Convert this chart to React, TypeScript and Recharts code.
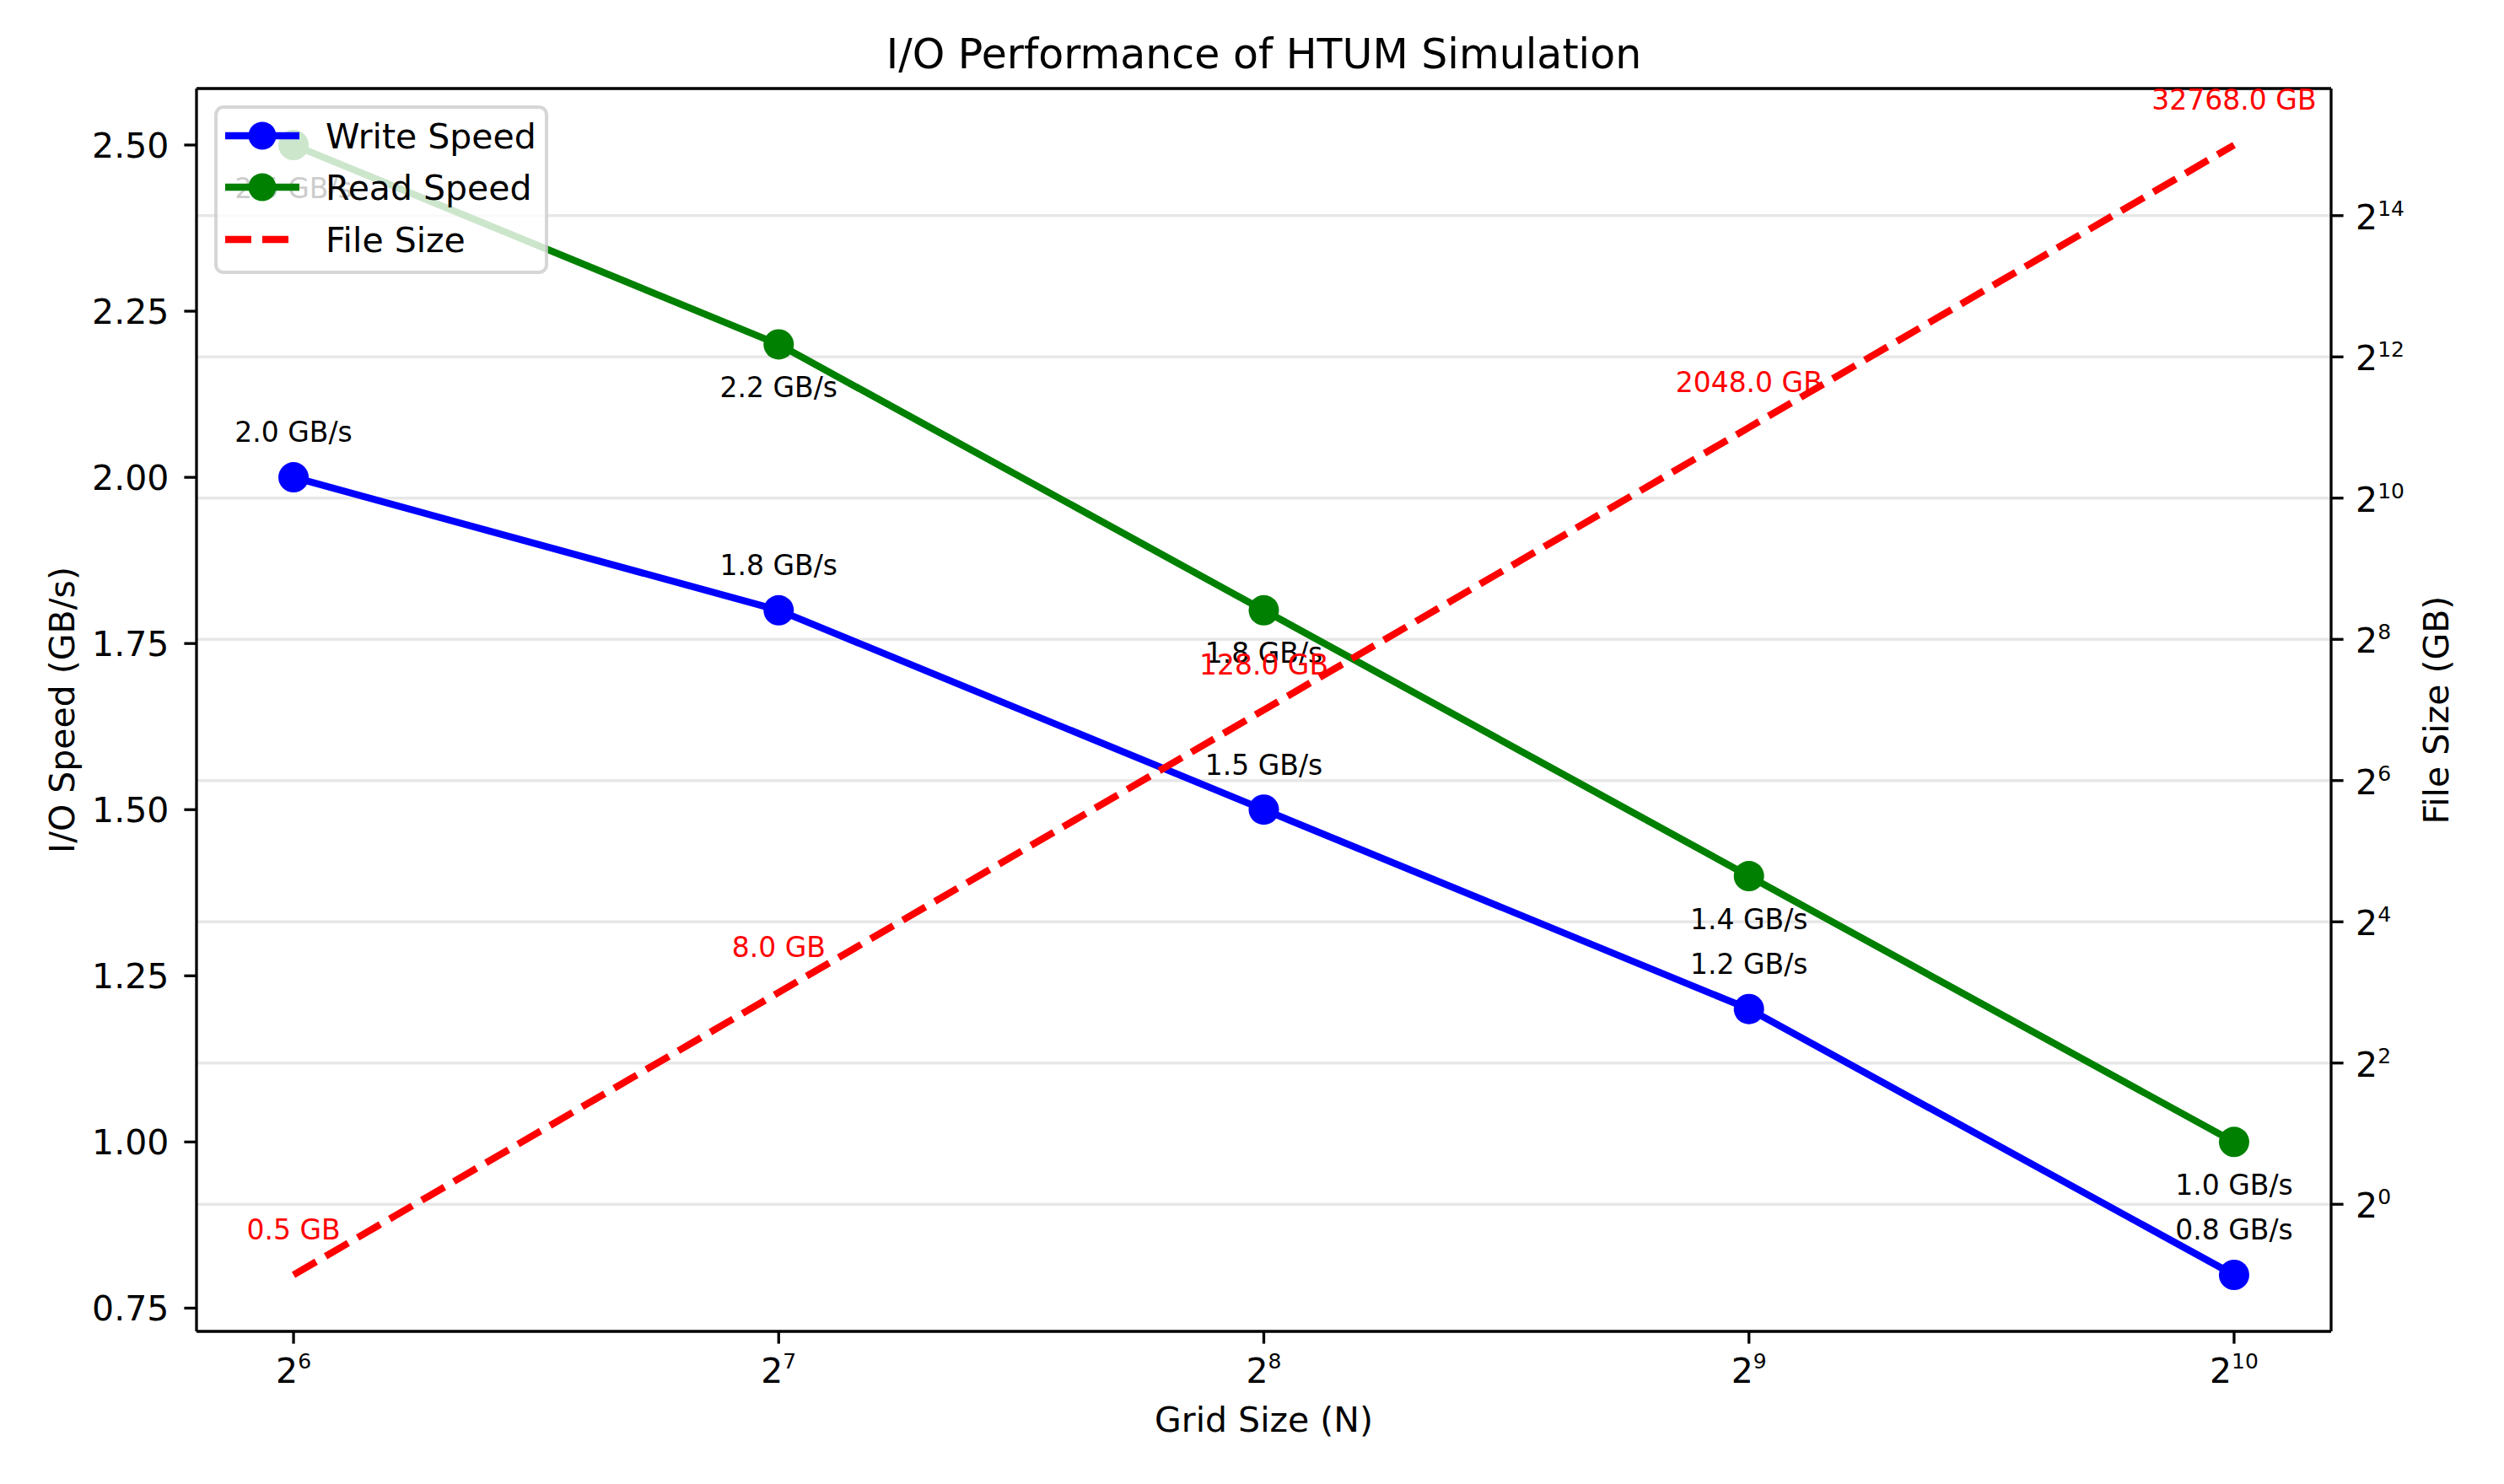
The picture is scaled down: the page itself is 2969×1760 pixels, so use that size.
import React from 'react';
import {
  ComposedChart,
  Line,
  XAxis,
  YAxis,
  CartesianGrid,
  Legend,
  LabelList,
} from 'recharts';

// ---- data ----
const gridSizes = [64, 128, 256, 512, 1024];
const writeSpeeds = [2.0, 1.8, 1.5, 1.2, 0.8];
const readSpeeds = [2.5, 2.2, 1.8, 1.4, 1.0];
const fileSizes = [0.5, 8, 128, 2048, 32768];

const xTicks = [64, 128, 256, 512, 1024];
const leftTicks = [0.75, 1.0, 1.25, 1.5, 1.75, 2.0, 2.25, 2.5];
const rightTicks = [1, 4, 16, 64, 256, 1024, 4096, 16384];
const seriesNames = ['Write Speed', 'Read Speed', 'File Size'];

const TITLE = 'I/O Performance of HTUM Simulation';
const X_LABEL = 'Grid Size (N)';
const Y_LEFT_LABEL = 'I/O Speed (GB/s)';
const Y_RIGHT_LABEL = 'File Size (GB)';

const data = gridSizes.map((n, i) => ({
  n,
  write: writeSpeeds[i],
  read: readSpeeds[i],
  file: fileSizes[i],
}));

// ---- layout / style ----
const W = 2969;
const H = 1760;
const FONT = 'DejaVu Sans';
const PLOT_LEFT = 233;
const PLOT_RIGHT = 2764;
const PLOT_TOP = 105;
const PLOT_BOTTOM = 1579;
const CX = (PLOT_LEFT + PLOT_RIGHT) / 2;
const CY = (PLOT_TOP + PLOT_BOTTOM) / 2;
const TICK_FS = 41;
const SUP_FS = 25;
const ANN_FS = 33;
const LW = 8.3;
const AXW = 3.3;

const xDomain = [Math.pow(2, 5.8), Math.pow(2, 10.2)];
const leftDomain = [0.715, 2.585];
const rightDomain = [Math.pow(2, -1.8), Math.pow(2, 15.8)];

const XTick = (props: any) => {
  const { x, y, payload } = props;
  const e = Math.round(Math.log2(payload.value));
  return (
    <text x={x} y={y + 46} textAnchor="middle" fontFamily={FONT} fill="#000">
      <tspan fontSize={TICK_FS}>2</tspan>
      <tspan fontSize={SUP_FS} dy={-17}>{e}</tspan>
    </text>
  );
};

const LeftTick = (props: any) => {
  const { x, y, payload } = props;
  return (
    <text x={x - 18} y={y + 15} textAnchor="end" fontFamily={FONT} fontSize={TICK_FS} fill="#000">
      {Number(payload.value).toFixed(2)}
    </text>
  );
};

const RightTick = (props: any) => {
  const { x, y, payload } = props;
  const e = Math.round(Math.log2(payload.value));
  return (
    <text x={x + 14.5} y={y + 16} textAnchor="start" fontFamily={FONT} fill="#000">
      <tspan fontSize={TICK_FS}>2</tspan>
      <tspan fontSize={SUP_FS} dy={-16}>{e}</tspan>
    </text>
  );
};

const pt = (p: any) => ({
  x: p.x ?? p.viewBox?.x,
  y: p.y ?? p.viewBox?.y,
});

const makeLabel = (fmt: (v: number) => string, dy: number, color: string) => (p: any) => {
  const { x, y } = pt(p);
  if (x == null || y == null) return null;
  return (
    <text x={x} y={y + dy} textAnchor="middle" fontFamily={FONT} fontSize={ANN_FS} fill={color}>
      {fmt(Number(p.value))}
    </text>
  );
};

const writeLabel = makeLabel((v) => `${v.toFixed(1)} GB/s`, -41.7, '#000');
const readLabel = makeLabel((v) => `${v.toFixed(1)} GB/s`, 62.5, '#000');
const fileLabel = makeLabel((v) => `${v.toFixed(1)} GB`, -41.7, '#ff0000');

const titleLabel = () => (
  <text x={CX} y={81} textAnchor="middle" fontFamily={FONT} fontSize={49} fill="#000">
    {TITLE}
  </text>
);
const xLabel = () => (
  <text x={CX} y={1698} textAnchor="middle" fontFamily={FONT} fontSize={TICK_FS} fill="#000">
    {X_LABEL}
  </text>
);
const leftLabel = () => (
  <text
    x={88}
    y={CY}
    transform={`rotate(-90 88 ${CY})`}
    textAnchor="middle"
    fontFamily={FONT}
    fontSize={TICK_FS}
    fill="#000"
  >
    {Y_LEFT_LABEL}
  </text>
);
const rightLabel = () => (
  <text
    x={2903}
    y={CY}
    transform={`rotate(-90 2903 ${CY})`}
    textAnchor="middle"
    fontFamily={FONT}
    fontSize={TICK_FS}
    fill="#000"
  >
    {Y_RIGHT_LABEL}
  </text>
);

const LEG_W = 396;
const LEG_H = 200;
const rowY = [36, 97, 159];

const renderLegend = (props: any) => {
  const items = [...(props.payload || [])].sort(
    (a: any, b: any) => seriesNames.indexOf(a.value) - seriesNames.indexOf(b.value)
  );
  return (
    <svg width={LEG_W} height={LEG_H} style={{ display: 'block' }}>
      <rect
        x={2}
        y={2}
        width={LEG_W - 4}
        height={LEG_H - 4}
        rx={9}
        fill="#ffffff"
        fillOpacity={0.8}
        stroke="#cccccc"
        strokeOpacity={0.8}
        strokeWidth={4}
      />
      {items.map((it: any, i: number) => {
        const cy = rowY[i];
        const dashed = !!(it.payload && it.payload.strokeDasharray);
        const hasDot = !dashed;
        return (
          <g key={it.value}>
            <line
              x1={13}
              x2={101}
              y1={cy}
              y2={cy}
              stroke={it.color}
              strokeWidth={LW}
              strokeDasharray={dashed ? '31 13' : undefined}
            />
            {hasDot && <circle cx={57} cy={cy} r={16.5} fill={it.color} />}
            <text x={132} y={cy + 15} fontFamily={FONT} fontSize={TICK_FS} fill="#000">
              {it.value}
            </text>
          </g>
        );
      })}
    </svg>
  );
};

export default function App() {
  return (
    <div style={{ position: 'absolute', left: 0, top: 0, width: W, height: H, background: '#fff' }}>
      <ComposedChart
        width={W}
        height={H}
        data={data}
        margin={{ top: PLOT_TOP - 1, right: 0, bottom: 0, left: 0 }}
      >
        <CartesianGrid
          yAxisId="right"
          vertical={false}
          stroke="#b0b0b0"
          strokeOpacity={0.3}
          strokeWidth={AXW}
        />
        <XAxis
          dataKey="n"
          type="number"
          scale="log"
          domain={xDomain}
          ticks={xTicks}
          allowDataOverflow
          height={H - PLOT_BOTTOM}
          tickSize={14.6}
          tickMargin={0}
          tick={<XTick />}
          tickLine={{ stroke: '#000', strokeWidth: AXW }}
          axisLine={{ stroke: '#000', strokeWidth: AXW }}
          interval={0}
          label={xLabel}
        />
        <XAxis
          xAxisId="top"
          orientation="top"
          dataKey="n"
          type="number"
          scale="log"
          domain={xDomain}
          ticks={xTicks}
          allowDataOverflow
          height={1}
          tick={false}
          tickLine={false}
          axisLine={{ stroke: '#000', strokeWidth: AXW }}
          label={titleLabel}
        />
        <YAxis
          yAxisId="left"
          orientation="left"
          type="number"
          domain={leftDomain}
          ticks={leftTicks}
          allowDataOverflow
          width={PLOT_LEFT}
          tickSize={14.6}
          tickMargin={0}
          tick={<LeftTick />}
          tickLine={{ stroke: '#000', strokeWidth: AXW }}
          axisLine={{ stroke: '#000', strokeWidth: AXW }}
          interval={0}
          label={leftLabel}
        />
        <YAxis
          yAxisId="right"
          orientation="right"
          type="number"
          scale="log"
          domain={rightDomain}
          ticks={rightTicks}
          allowDataOverflow
          width={W - PLOT_RIGHT}
          tickSize={14.6}
          tickMargin={0}
          tick={<RightTick />}
          tickLine={{ stroke: '#000', strokeWidth: AXW }}
          axisLine={{ stroke: '#000', strokeWidth: AXW }}
          interval={0}
          label={rightLabel}
        />
        <Line
          yAxisId="left"
          dataKey="write"
          name="Write Speed"
          type="linear"
          stroke="#0000ff"
          strokeWidth={LW}
          strokeLinejoin="round"
          dot={{ r: 18, fill: '#0000ff', stroke: 'none', strokeWidth: 0 }}
          activeDot={false}
          isAnimationActive={false}
        >
          <LabelList dataKey="write" content={writeLabel} />
        </Line>
        <Line
          yAxisId="left"
          dataKey="read"
          name="Read Speed"
          type="linear"
          stroke="#008000"
          strokeWidth={LW}
          strokeLinejoin="round"
          dot={{ r: 18, fill: '#008000', stroke: 'none', strokeWidth: 0 }}
          activeDot={false}
          isAnimationActive={false}
        >
          <LabelList dataKey="read" content={readLabel} />
        </Line>
        <Line
          yAxisId="right"
          dataKey="file"
          name="File Size"
          type="linear"
          stroke="#ff0000"
          strokeWidth={LW}
          strokeDasharray="31 13"
          dot={false}
          activeDot={false}
          isAnimationActive={false}
        >
          <LabelList dataKey="file" content={fileLabel} />
        </Line>
        <Legend
          layout="vertical"
          align="center"
          verticalAlign="middle"
          content={renderLegend}
          wrapperStyle={{ position: 'absolute', left: 254, top: 125, width: LEG_W, height: LEG_H }}
        />
      </ComposedChart>
    </div>
  );
}
